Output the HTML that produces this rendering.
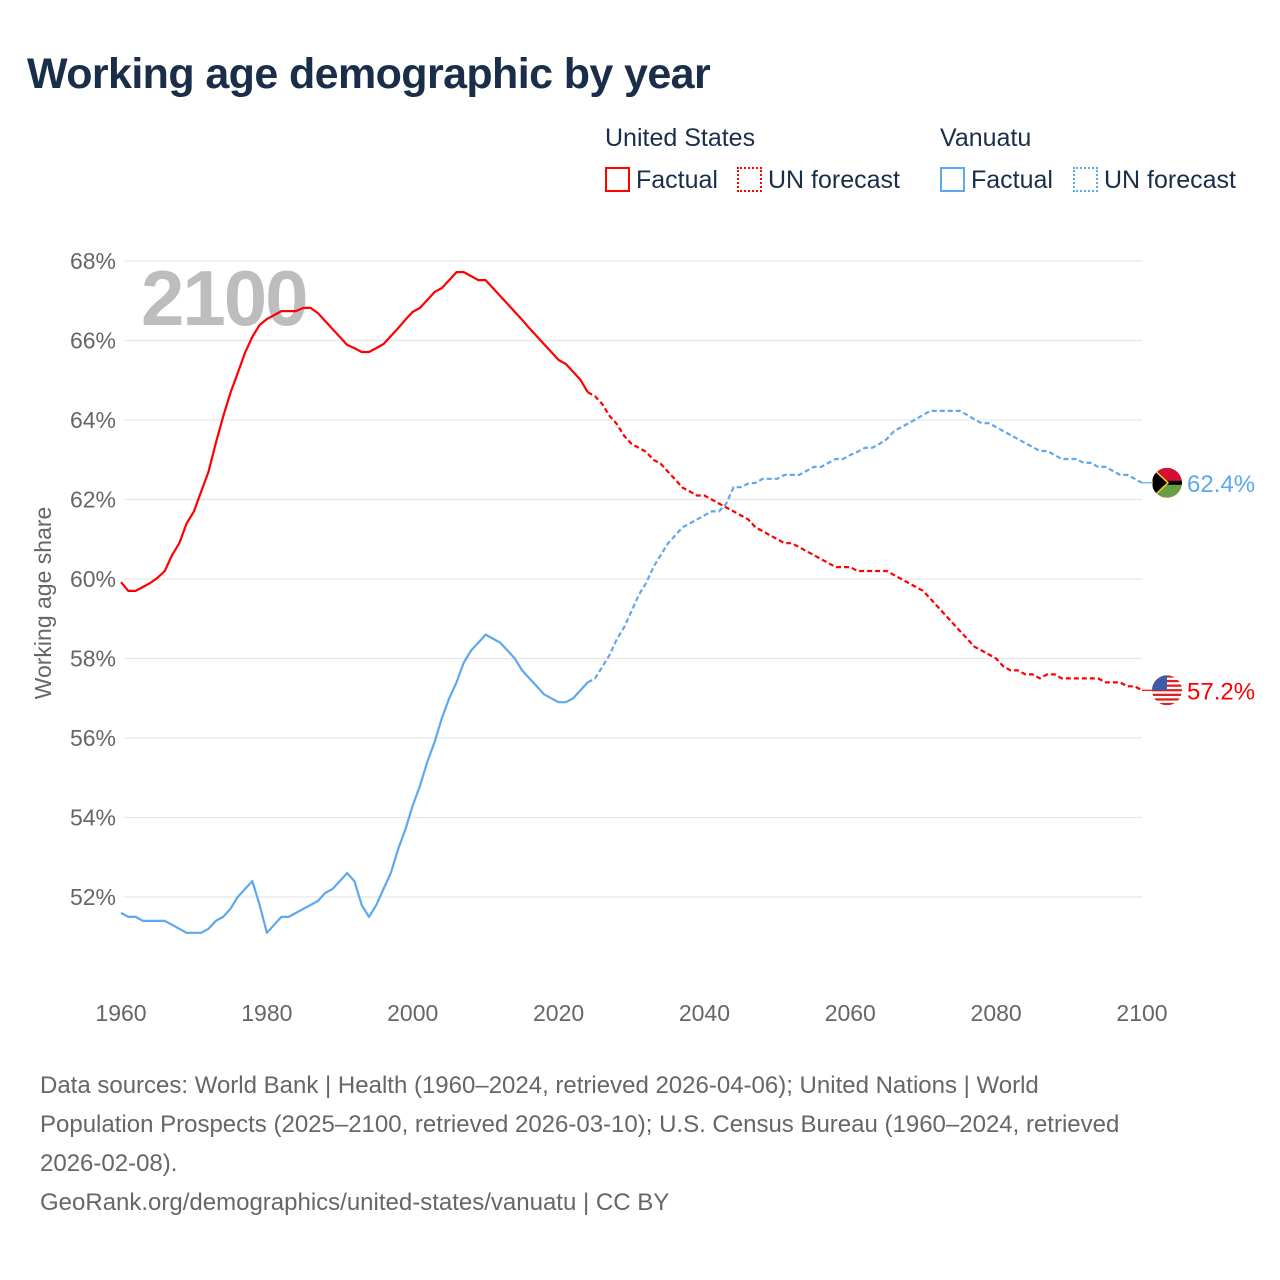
<!DOCTYPE html>
<html><head><meta charset="utf-8">
<style>
body{margin:0;background:#fff;font-family:"Liberation Sans",sans-serif;}
#wrap{position:relative;width:1280px;height:1280px;overflow:hidden;}
.t{position:absolute;white-space:nowrap;}
</style></head>
<body>
<div id="wrap">
<div class="t" style="left:27px;top:50px;font-size:43px;letter-spacing:-0.6px;font-weight:bold;color:#1a2e4a;">Working age demographic by year</div>
<div class="t" style="left:605px;top:124px;font-size:25px;color:#1a2e4a;">United States</div>
<div class="t" style="left:940px;top:124px;font-size:25px;color:#1a2e4a;">Vanuatu</div>
<div class="t" style="left:605px;top:166px;font-size:25px;color:#1a2e4a;"><span style="display:inline-block;width:21px;height:21px;border:2px solid #f00;vertical-align:-4px;margin-right:6px;"></span>Factual</div>
<div class="t" style="left:737px;top:166px;font-size:25px;color:#1a2e4a;"><span style="display:inline-block;width:21px;height:21px;border:2px dotted #f00;vertical-align:-4px;margin-right:6px;"></span>UN forecast</div>
<div class="t" style="left:940px;top:166px;font-size:25px;color:#1a2e4a;"><span style="display:inline-block;width:21px;height:21px;border:2px solid #5ea8ee;vertical-align:-4px;margin-right:6px;"></span>Factual</div>
<div class="t" style="left:1073px;top:166px;font-size:25px;color:#1a2e4a;"><span style="display:inline-block;width:21px;height:21px;border:2px dotted #5ea8ee;vertical-align:-4px;margin-right:6px;"></span>UN forecast</div>
<svg id="chart" width="1280" height="1280" style="position:absolute;left:0;top:0"></svg>
<div class="t" style="left:40px;top:1066px;font-size:24px;line-height:39px;color:#666;">Data sources: World Bank | Health (1960–2024, retrieved 2026-04-06); United Nations | World<br>Population Prospects (2025–2100, retrieved 2026-03-10); U.S. Census Bureau (1960–2024, retrieved<br>2026-02-08).<br>GeoRank.org/demographics/united-states/vanuatu | CC BY</div>
</div>
<script>
const yTicks=[52,54,56,58,60,62,64,66,68];
const xTicks=[1960,1980,2000,2020,2040,2060,2080,2100];
const usValues=[59.92,59.7,59.7,59.8,59.9,60.03,60.2,60.6,60.9,61.4,61.7,62.2,62.7,63.42,64.08,64.68,65.18,65.69,66.09,66.39,66.54,66.64,66.74,66.74,66.74,66.82,66.82,66.69,66.49,66.29,66.09,65.89,65.81,65.71,65.71,65.81,65.91,66.11,66.31,66.52,66.72,66.82,67.02,67.22,67.32,67.52,67.72,67.72,67.62,67.52,67.52,67.32,67.12,66.92,66.72,66.52,66.31,66.11,65.91,65.71,65.51,65.41,65.21,65.01,64.7,64.6,64.4,64.1,63.9,63.6,63.4,63.3,63.2,63.0,62.9,62.7,62.5,62.3,62.2,62.1,62.1,62.0,61.9,61.8,61.7,61.6,61.5,61.3,61.2,61.1,61.0,60.9,60.9,60.8,60.7,60.6,60.5,60.4,60.3,60.3,60.3,60.2,60.2,60.2,60.2,60.2,60.1,60.0,59.9,59.8,59.7,59.5,59.3,59.1,58.9,58.7,58.5,58.3,58.2,58.1,58.0,57.8,57.7,57.7,57.6,57.6,57.5,57.6,57.6,57.5,57.5,57.5,57.5,57.5,57.5,57.4,57.4,57.4,57.3,57.3,57.2];
const vuValues=[51.6,51.5,51.5,51.4,51.4,51.4,51.4,51.3,51.2,51.1,51.1,51.1,51.2,51.4,51.5,51.7,52.0,52.2,52.4,51.8,51.1,51.3,51.5,51.5,51.6,51.7,51.8,51.9,52.1,52.2,52.4,52.6,52.4,51.8,51.5,51.8,52.2,52.6,53.2,53.7,54.3,54.8,55.4,55.9,56.5,57.0,57.4,57.9,58.2,58.4,58.6,58.5,58.4,58.2,58.0,57.7,57.5,57.3,57.1,57.0,56.9,56.9,57.0,57.2,57.4,57.5,57.79,58.09,58.49,58.79,59.19,59.6,59.9,60.3,60.6,60.9,61.1,61.3,61.4,61.5,61.6,61.7,61.7,61.9,62.31,62.31,62.4,62.42,62.52,62.52,62.52,62.62,62.62,62.62,62.72,62.82,62.82,62.92,63.02,63.02,63.12,63.2,63.3,63.3,63.4,63.52,63.72,63.82,63.92,64.02,64.13,64.23,64.23,64.23,64.23,64.23,64.13,64.02,63.92,63.92,63.82,63.72,63.62,63.52,63.42,63.32,63.22,63.22,63.12,63.02,63.02,63.02,62.92,62.92,62.82,62.82,62.72,62.62,62.62,62.52,62.42];
const startYear=1960, forecastStart=2024;
const NS="http://www.w3.org/2000/svg";
const svg=document.getElementById('chart');
function xS(yr){return 121+(yr-1960)*(1142-121)/140;}
function yS(v){return 261+(68-v)*39.75;}
function mk(tag,attrs){const e=document.createElementNS(NS,tag);for(const k in attrs)e.setAttribute(k,attrs[k]);svg.appendChild(e);return e;}
yTicks.forEach(v=>{
  const l=mk('line',{x1:124,x2:1142,y1:yS(v),y2:yS(v),stroke:'#e6e6e6','stroke-width':1.2});
  
  
  const t=mk('text',{x:116,y:yS(v)+8,'text-anchor':'end','font-size':23,fill:'#666','font-family':'Liberation Sans'});
  t.textContent=v+'%';
  
  
});
xTicks.forEach(yr=>{
  const t=mk('text',{x:xS(yr),y:1021,'text-anchor':'middle','font-size':23,fill:'#666','font-family':'Liberation Sans'});
  t.textContent=yr;
  
  
});
const yl=mk('text',{x:0,y:0,transform:'translate(51,603) rotate(-90)','text-anchor':'middle','font-size':23,fill:'#666','font-family':'Liberation Sans'});
yl.textContent='Working age share';


const big=mk('text',{x:141,y:325,'font-size':78,'font-weight':'bold',fill:'#bdbdbd','font-family':'Liberation Sans','letter-spacing':'-2'});
big.textContent='2100';


function series(vals,color,name){
  const idx=forecastStart-startYear;
  const pts=vals.map((v,i)=>xS(startYear+i).toFixed(1)+','+yS(v).toFixed(1));
  const a=mk('polyline',{points:pts.slice(0,idx+1).join(' '),fill:'none',stroke:color,'stroke-width':2.2,'stroke-linejoin':'round'});
  
  
  const b=mk('polyline',{points:pts.slice(idx).join(' '),fill:'none',stroke:color,'stroke-width':2.2,'stroke-dasharray':'5,3'});
  
  
  const last=vals[vals.length-1];
  const c=mk('line',{x1:xS(2100),x2:1152,y1:yS(last),y2:yS(last),stroke:color,'stroke-width':1.2});
  
  
  const t=mk('text',{x:1187,y:yS(last)+9,'font-size':24,fill:color,'font-family':'Liberation Sans'});
  t.textContent=last.toFixed(1)+'%';
  
  
  return yS(last);
}
const yu=series(usValues,'#f00','us');
const yv=series(vuValues,'#5ea8ee','vu');
const cx=1167;
mk('defs',{}).innerHTML='<clipPath id="cv"><circle cx="'+cx+'" cy="'+yv+'" r="15"/></clipPath><clipPath id="cu"><circle cx="'+cx+'" cy="'+yu+'" r="15"/></clipPath>';
const gv=mk('g',{'clip-path':'url(#cv)'});


gv.innerHTML='<rect x="'+(cx-15)+'" y="'+(yv-15)+'" width="30" height="15" fill="#d21034"/><rect x="'+(cx-15)+'" y="'+yv+'" width="30" height="15" fill="#6a9e45"/><rect x="'+(cx-15)+'" y="'+(yv-2)+'" width="30" height="4" fill="#000"/><polygon points="'+(cx-15)+','+(yv-15)+' '+(cx+1)+','+yv+' '+(cx-15)+','+(yv+15)+'" fill="#000" stroke="#f7d117" stroke-width="1.5"/>';
const gu=mk('g',{'clip-path':'url(#cu)'});


let s='<rect x="'+(cx-15)+'" y="'+(yu-15)+'" width="30" height="30" fill="#fff"/>';
for(let i=0;i<7;i++)s+='<rect x="'+(cx-15)+'" y="'+(yu-15+i*4.6)+'" width="30" height="2.3" fill="#d22"/>';
s+='<rect x="'+(cx-15)+'" y="'+(yu-15)+'" width="15" height="15" fill="#3c5ba8"/>';
gu.innerHTML=s;
</script>
</body></html>
